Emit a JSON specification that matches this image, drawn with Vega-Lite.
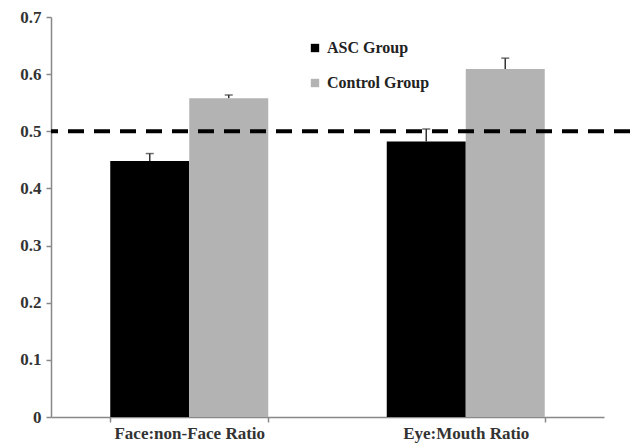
{
  "$schema": "https://vega.github.io/schema/vega-lite/v6.json",
  "autosize": "none",
  "padding": {"left": 51, "top": 17, "right": 0, "bottom": 29},
  "width": 587,
  "height": 400,
  "background": "white",
  "config": {
    "view": {"stroke": null},
    "font": "Liberation Serif"
  },
  "data": {
    "values": [
      {"measure": "Face:non-Face Ratio", "group": "ASC Group", "value": 0.448, "upper": 0.461},
      {"measure": "Face:non-Face Ratio", "group": "Control Group", "value": 0.558, "upper": 0.5635},
      {"measure": "Eye:Mouth Ratio", "group": "ASC Group", "value": 0.482, "upper": 0.504},
      {"measure": "Eye:Mouth Ratio", "group": "Control Group", "value": 0.609, "upper": 0.628}
    ]
  },
  "encoding": {
    "x": {
      "field": "measure",
      "type": "nominal",
      "sort": ["Face:non-Face Ratio", "Eye:Mouth Ratio"],
      "scale": {"range": [0, 553], "paddingInner": 0.4286, "paddingOuter": 0.2143},
      "axis": {
        "title": null,
        "labelAngle": 0,
        "tickBand": "extent",
        "labelFontSize": 17,
        "labelFontWeight": "bold",
        "labelColor": "#333333",
        "labelPadding": 3,
        "domainColor": "#888888",
        "domainWidth": 1.5,
        "tickColor": "#888888",
        "tickWidth": 1.5,
        "tickSize": 5
      }
    },
    "xOffset": {"field": "group", "type": "nominal", "sort": ["ASC Group", "Control Group"]}
  },
  "layer": [
    {
      "mark": {"type": "bar"},
      "encoding": {
        "y": {
          "field": "value",
          "type": "quantitative",
          "scale": {"domain": [0, 0.7], "nice": false},
          "axis": {
            "title": null,
            "grid": false,
            "values": [0, 0.1, 0.2, 0.3, 0.4, 0.5, 0.6, 0.7],
            "labelExpr": "datum.value == 0 ? '0' : format(datum.value, '.1f')",
            "labelFontSize": 17,
            "labelFontWeight": "bold",
            "labelColor": "#333333",
            "labelPadding": 5,
            "domainColor": "#888888",
            "domainWidth": 1.5,
            "tickColor": "#888888",
            "tickWidth": 1.5,
            "tickSize": 5
          }
        },
        "color": {
          "field": "group",
          "type": "nominal",
          "scale": {"domain": ["ASC Group", "Control Group"], "range": ["#000000", "#b3b3b3"]},
          "legend": {
            "title": null,
            "orient": "none",
            "legendX": 256,
            "legendY": 23,
            "symbolType": "square",
            "symbolSize": 70,
            "symbolStrokeWidth": 0,
            "labelFontSize": 16,
            "labelFontWeight": "bold",
            "labelColor": "#222222",
            "labelOffset": 4,
            "rowPadding": 19
          }
        }
      }
    },
    {
      "mark": {"type": "rule", "color": "#333333", "strokeWidth": 1.5},
      "encoding": {
        "y": {"field": "value", "type": "quantitative"},
        "y2": {"field": "upper"}
      }
    },
    {
      "mark": {"type": "tick", "color": "#333333", "thickness": 1.5, "size": 8, "orient": "horizontal"},
      "encoding": {
        "y": {"field": "upper", "type": "quantitative"}
      }
    },
    {
      "data": {"values": [{"ref": 0.5}]},
      "mark": {"type": "rule", "color": "#000000", "strokeWidth": 4, "strokeDash": [16, 10], "strokeDashOffset": -8},
      "encoding": {
        "y": {"field": "ref", "type": "quantitative"},
        "x": null,
        "xOffset": null
      }
    }
  ]
}
